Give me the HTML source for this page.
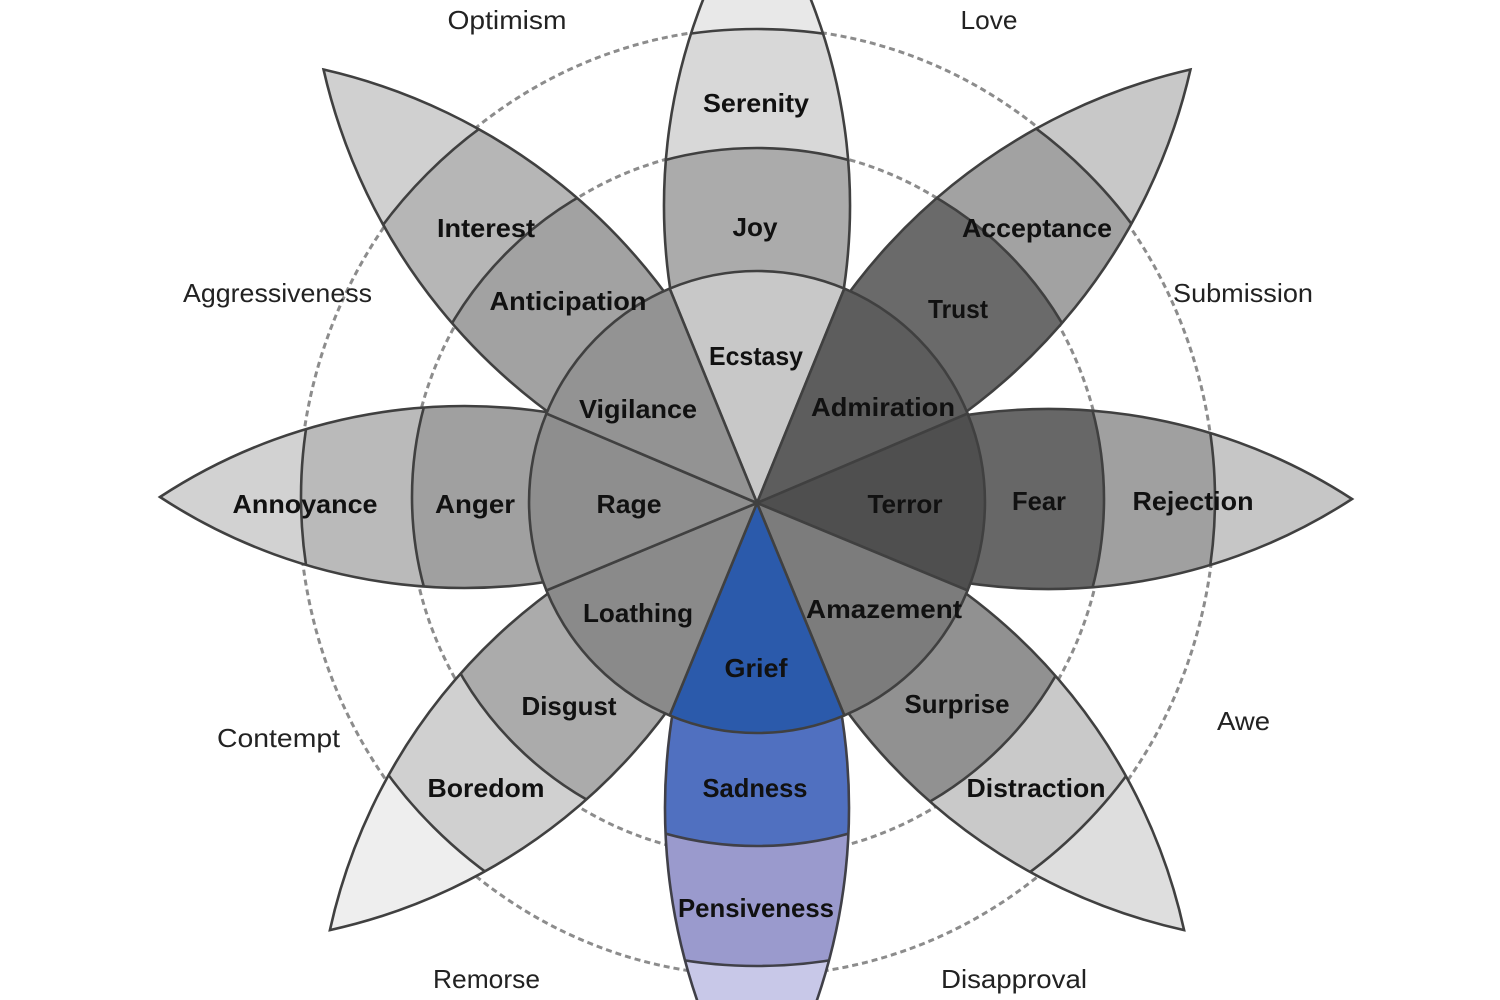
<!DOCTYPE html>
<html>
<head>
<meta charset="utf-8">
<style>
  html, body { margin: 0; padding: 0; background: #ffffff; width: 1500px; height: 1000px; overflow: hidden; }
  svg { display: block; }
  .b { font-family: "Liberation Sans", Arial, sans-serif; font-weight: bold; font-size: 26px; fill: #111; }
  .o { font-family: "Liberation Sans", Arial, sans-serif; font-weight: normal; font-size: 26px; fill: #222; }
</style>
</head>
<body>
<svg width="1500" height="1000" viewBox="0 0 1500 1000" xmlns="http://www.w3.org/2000/svg" overflow="hidden">
  <defs>
    <clipPath id="cT"><path d="M100,57.2 A561.8,561.8 0 0 0 607,0 A561.8,561.8 0 0 0 100,-57.2 Z"/></clipPath>
    <clipPath id="cR"><path d="M100,56 A556.4,556.4 0 0 0 595,0 A556.4,556.4 0 0 0 100,-56 Z"/></clipPath>
    <clipPath id="cL"><path d="M100,56.5 A554.9,554.9 0 0 0 597,0 A554.9,554.9 0 0 0 100,-56.5 Z"/></clipPath>
    <clipPath id="cB"><path d="M100,55.5 A592.8,592.8 0 0 0 622,0 A592.8,592.8 0 0 0 100,-55.5 Z"/></clipPath>
    <clipPath id="cDT"><path d="M100,54.8 A587.9,587.9 0 0 0 613,0 A587.9,587.9 0 0 0 100,-54.8 Z"/></clipPath>
    <clipPath id="cDB"><path d="M100,55.4 A572,572 0 0 0 604,0 A572,572 0 0 0 100,-55.4 Z"/></clipPath>
  </defs>

  <rect x="0" y="0" width="1500" height="1000" fill="#ffffff"/>

  <!-- dashed guide circles -->
  <ellipse cx="757" cy="502" rx="348" ry="355" fill="none" stroke="#8c8c8c" stroke-width="3" stroke-dasharray="6 4"/>
  <ellipse cx="757" cy="502" rx="458" ry="474" fill="none" stroke="#8c8c8c" stroke-width="3" stroke-dasharray="6 4"/>

  <!-- TOP petal (Joy) -->
  <g transform="translate(757,503) rotate(-90)">
    <g clip-path="url(#cT)">
      <rect x="0" y="-150" width="700" height="300" fill="#e8e8e8"/>
      <circle r="474" fill="#d8d8d8"/>
      <circle r="355" fill="#ababab"/>
      <circle r="474" fill="none" stroke="#404040" stroke-width="2.6"/>
      <circle r="355" fill="none" stroke="#404040" stroke-width="2.6"/>
    </g>
    <path d="M100,57.2 A561.8,561.8 0 0 0 607,0 A561.8,561.8 0 0 0 100,-57.2 Z" fill="none" stroke="#404040" stroke-width="2.6"/>
  </g>

  <!-- TOP-RIGHT petal (Trust) -->
  <g transform="translate(757,503) rotate(-45)">
    <g clip-path="url(#cDT)">
      <rect x="0" y="-150" width="700" height="300" fill="#c8c8c8"/>
      <circle r="467" fill="#a2a2a2"/>
      <circle r="354" fill="#6a6a6a"/>
      <circle r="467" fill="none" stroke="#404040" stroke-width="2.6"/>
      <circle r="354" fill="none" stroke="#404040" stroke-width="2.6"/>
    </g>
    <path d="M100,54.8 A587.9,587.9 0 0 0 613,0 A587.9,587.9 0 0 0 100,-54.8 Z" fill="none" stroke="#404040" stroke-width="2.6"/>
  </g>

  <!-- RIGHT petal (Fear) -->
  <g transform="translate(757,499)">
    <g clip-path="url(#cR)">
      <rect x="0" y="-150" width="700" height="300" fill="#c6c6c6"/>
      <circle r="458" fill="#a0a0a0"/>
      <circle r="347" fill="#676767"/>
      <circle r="458" fill="none" stroke="#404040" stroke-width="2.6"/>
      <circle r="347" fill="none" stroke="#404040" stroke-width="2.6"/>
    </g>
    <path d="M100,56 A556.4,556.4 0 0 0 595,0 A556.4,556.4 0 0 0 100,-56 Z" fill="none" stroke="#404040" stroke-width="2.6"/>
  </g>

  <!-- BOTTOM-RIGHT petal (Surprise) -->
  <g transform="translate(757,503) rotate(45)">
    <g clip-path="url(#cDB)">
      <rect x="0" y="-150" width="700" height="300" fill="#dedede"/>
      <circle r="459" fill="#c9c9c9"/>
      <circle r="345" fill="#919191"/>
      <circle r="459" fill="none" stroke="#404040" stroke-width="2.6"/>
      <circle r="345" fill="none" stroke="#404040" stroke-width="2.6"/>
    </g>
    <path d="M100,55.4 A572,572 0 0 0 604,0 A572,572 0 0 0 100,-55.4 Z" fill="none" stroke="#404040" stroke-width="2.6"/>
  </g>

  <!-- BOTTOM petal (Sadness) -->
  <g transform="translate(757,503) rotate(90)">
    <g clip-path="url(#cB)">
      <rect x="0" y="-150" width="700" height="300" fill="#c8c8e8"/>
      <circle r="463" fill="#9a9acd"/>
      <circle r="343" fill="#5070c0"/>
      <circle r="463" fill="none" stroke="#404048" stroke-width="2.6"/>
      <circle r="343" fill="none" stroke="#404048" stroke-width="2.6"/>
    </g>
    <path d="M100,55.5 A592.8,592.8 0 0 0 622,0 A592.8,592.8 0 0 0 100,-55.5 Z" fill="none" stroke="#404048" stroke-width="2.6"/>
  </g>

  <!-- BOTTOM-LEFT petal (Disgust) -->
  <g transform="translate(757,503) rotate(135)">
    <g clip-path="url(#cDB)">
      <rect x="0" y="-150" width="700" height="300" fill="#eeeeee"/>
      <circle r="458" fill="#d0d0d0"/>
      <circle r="342" fill="#ababab"/>
      <circle r="458" fill="none" stroke="#404040" stroke-width="2.6"/>
      <circle r="342" fill="none" stroke="#404040" stroke-width="2.6"/>
    </g>
    <path d="M100,55.4 A572,572 0 0 0 604,0 A572,572 0 0 0 100,-55.4 Z" fill="none" stroke="#404040" stroke-width="2.6"/>
  </g>

  <!-- LEFT petal (Anger) -->
  <g transform="translate(757,497) rotate(180)">
    <g clip-path="url(#cL)">
      <rect x="0" y="-150" width="700" height="300" fill="#d2d2d2"/>
      <circle r="456" fill="#bababa"/>
      <circle r="345" fill="#a0a0a0"/>
      <circle r="456" fill="none" stroke="#404040" stroke-width="2.6"/>
      <circle r="345" fill="none" stroke="#404040" stroke-width="2.6"/>
    </g>
    <path d="M100,56.5 A554.9,554.9 0 0 0 597,0 A554.9,554.9 0 0 0 100,-56.5 Z" fill="none" stroke="#404040" stroke-width="2.6"/>
  </g>

  <!-- TOP-LEFT petal (Anticipation) -->
  <g transform="translate(757,503) rotate(-135)">
    <g clip-path="url(#cDT)">
      <rect x="0" y="-150" width="700" height="300" fill="#d0d0d0"/>
      <circle r="466" fill="#b6b6b6"/>
      <circle r="354" fill="#a2a2a2"/>
      <circle r="466" fill="none" stroke="#404040" stroke-width="2.6"/>
      <circle r="354" fill="none" stroke="#404040" stroke-width="2.6"/>
    </g>
    <path d="M100,54.8 A587.9,587.9 0 0 0 613,0 A587.9,587.9 0 0 0 100,-54.8 Z" fill="none" stroke="#404040" stroke-width="2.6"/>
  </g>

  <!-- inner disk sectors -->
  <g stroke="#404040" stroke-width="2.6" stroke-linejoin="round">
    <path d="M757,503 L669.7,288.6 A228,231 0 0 1 844.3,288.6 Z" fill="#c8c8c8"/>
    <path d="M757,503 L844.3,288.6 A228,231 0 0 1 967.6,413.6 Z" fill="#5d5d5d"/>
    <path d="M757,503 L967.6,413.6 A228,231 0 0 1 967.6,590.4 Z" fill="#4f4f4f"/>
    <path d="M757,503 L967.6,590.4 A228,231 0 0 1 844.3,715.4 Z" fill="#7c7c7c"/>
    <path d="M757,503 L844.3,715.4 A228,231 0 0 1 669.7,715.4 Z" fill="#2b5aab"/>
    <path d="M757,503 L669.7,715.4 A228,231 0 0 1 546.4,590.4 Z" fill="#8a8a8a"/>
    <path d="M757,503 L546.4,590.4 A228,231 0 0 1 546.4,413.6 Z" fill="#8e8e8e"/>
    <path d="M757,503 L546.4,413.6 A228,231 0 0 1 669.7,288.6 Z" fill="#939393"/>
  </g>

  <!-- bold emotion labels -->
  <g class="b" text-anchor="middle">
    <text x="756" y="112" textLength="106" lengthAdjust="spacingAndGlyphs">Serenity</text>
    <text x="755" y="236" textLength="45" lengthAdjust="spacingAndGlyphs">Joy</text>
    <text x="756" y="365" textLength="94" lengthAdjust="spacingAndGlyphs">Ecstasy</text>
    <text x="486" y="237" textLength="98" lengthAdjust="spacingAndGlyphs">Interest</text>
    <text x="568" y="310" textLength="157" lengthAdjust="spacingAndGlyphs">Anticipation</text>
    <text x="638" y="418" textLength="118" lengthAdjust="spacingAndGlyphs">Vigilance</text>
    <text x="1037" y="237" textLength="150" lengthAdjust="spacingAndGlyphs">Acceptance</text>
    <text x="958" y="318" textLength="60" lengthAdjust="spacingAndGlyphs">Trust</text>
    <text x="883" y="416" textLength="144" lengthAdjust="spacingAndGlyphs">Admiration</text>
    <text x="305" y="513" textLength="145" lengthAdjust="spacingAndGlyphs">Annoyance</text>
    <text x="475" y="513" textLength="80" lengthAdjust="spacingAndGlyphs">Anger</text>
    <text x="629" y="513" textLength="65" lengthAdjust="spacingAndGlyphs">Rage</text>
    <text x="905" y="513" textLength="75" lengthAdjust="spacingAndGlyphs">Terror</text>
    <text x="1039" y="510" textLength="54" lengthAdjust="spacingAndGlyphs">Fear</text>
    <text x="1193" y="510" textLength="121" lengthAdjust="spacingAndGlyphs">Rejection</text>
    <text x="638" y="622" textLength="110" lengthAdjust="spacingAndGlyphs">Loathing</text>
    <text x="884" y="618" textLength="156" lengthAdjust="spacingAndGlyphs">Amazement</text>
    <text x="756" y="677" textLength="63" lengthAdjust="spacingAndGlyphs">Grief</text>
    <text x="569" y="715" textLength="95" lengthAdjust="spacingAndGlyphs">Disgust</text>
    <text x="957" y="713" textLength="105" lengthAdjust="spacingAndGlyphs">Surprise</text>
    <text x="486" y="797" textLength="117" lengthAdjust="spacingAndGlyphs">Boredom</text>
    <text x="1036" y="797" textLength="139" lengthAdjust="spacingAndGlyphs">Distraction</text>
    <text x="755" y="797" textLength="105" lengthAdjust="spacingAndGlyphs">Sadness</text>
    <text x="756" y="917" textLength="156" lengthAdjust="spacingAndGlyphs">Pensiveness</text>
  </g>

  <!-- outer dyad labels -->
  <g class="o" text-anchor="middle">
    <text x="507" y="29" textLength="119" lengthAdjust="spacingAndGlyphs">Optimism</text>
    <text x="989" y="29" textLength="57" lengthAdjust="spacingAndGlyphs">Love</text>
    <text x="277.5" y="302" textLength="189" lengthAdjust="spacingAndGlyphs">Aggressiveness</text>
    <text x="1243" y="302" textLength="140" lengthAdjust="spacingAndGlyphs">Submission</text>
    <text x="278.5" y="747" textLength="123" lengthAdjust="spacingAndGlyphs">Contempt</text>
    <text x="1243.5" y="730" textLength="53" lengthAdjust="spacingAndGlyphs">Awe</text>
    <text x="486.5" y="988" textLength="107" lengthAdjust="spacingAndGlyphs">Remorse</text>
    <text x="1014" y="988" textLength="146" lengthAdjust="spacingAndGlyphs">Disapproval</text>
  </g>
</svg>
</body>
</html>
